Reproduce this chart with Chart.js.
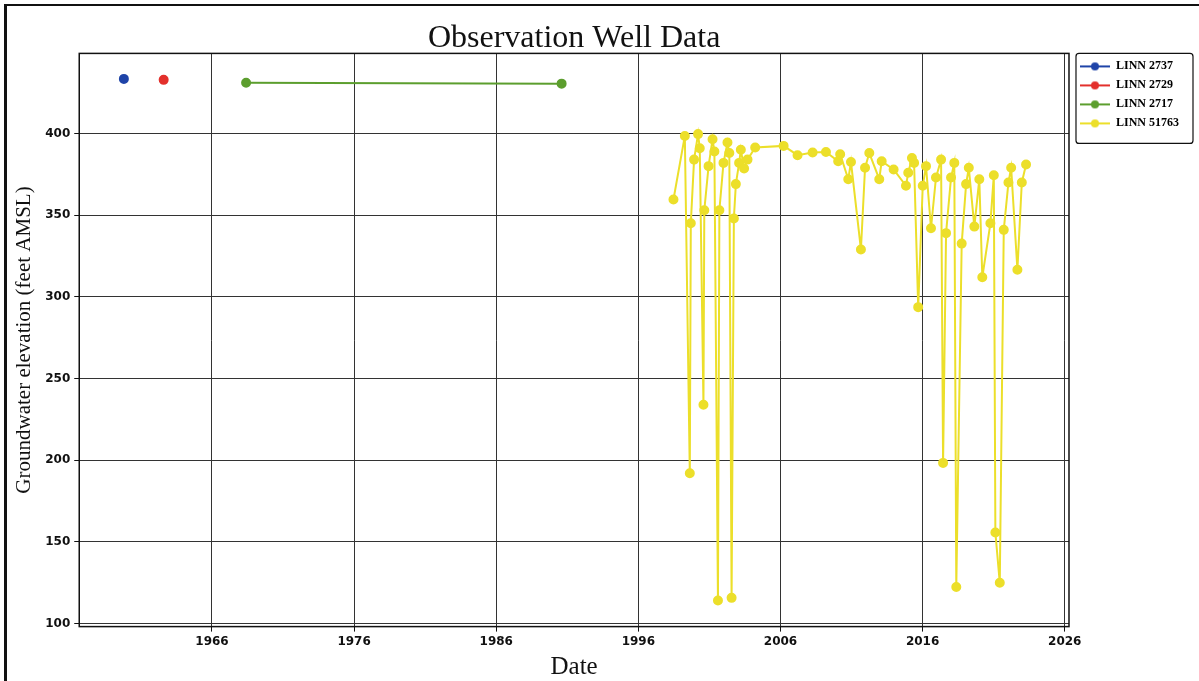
<!DOCTYPE html>
<html>
<head>
<meta charset="utf-8">
<script src="https://cdn.jsdelivr.net/npm/chart.js@4.4.1/dist/chart.umd.min.js"></script>
<style>
  body { margin: 0; background: #fff; }
  #wrap { position: relative; width: 1199px; height: 681px; }
  #frame { position: absolute; left: 4px; top: 4px; width: 1195px; height: 690px;
           border-left: 3px solid #111; border-top: 2px solid #111; pointer-events: none; }
</style>
</head>
<body>
<div id="wrap">
  <canvas id="grafica" width="1199" height="681"></canvas>
  <div id="frame"></div>
</div>
<script>
// datos
const nombresPozos = ["LINN 2737", "LINN 2729", "LINN 2717", "LINN 51763"];
const coloresPozos = ["#1f44a8", "#e3302c", "#5c9e2e", "#ecdf2a"];

const anios2737 = [1959.8];
const nivel2737 = [433.4];

const anios2729 = [1962.6];
const nivel2729 = [432.8];

const anios2717 = [1968.4, 1990.6];
const nivel2717 = [431, 430.5];

const anios51763 = [1998.47, 1999.27, 1999.62, 1999.69, 1999.92, 2000.20, 2000.32, 2000.58, 2000.64, 2000.94,
  2001.22, 2001.35, 2001.60, 2001.70, 2001.99, 2002.27, 2002.40, 2002.56, 2002.72, 2002.86,
  2003.09, 2003.21, 2003.44, 2003.68, 2004.22, 2006.22, 2007.20, 2008.26, 2009.20, 2010.06,
  2010.20, 2010.77, 2010.96, 2011.66, 2011.95, 2012.25, 2012.95, 2013.12, 2013.96, 2014.83,
  2014.99, 2015.25, 2015.40, 2015.69, 2016.01, 2016.24, 2016.59, 2016.94, 2017.30, 2017.44,
  2017.65, 2018.00, 2018.23, 2018.37, 2018.75, 2019.06, 2019.25, 2019.64, 2019.99, 2020.20,
  2020.77, 2021.01, 2021.12, 2021.43, 2021.71, 2022.04, 2022.23, 2022.67, 2022.98, 2023.28];
const nivel51763 = [359.6, 398.5, 192, 345, 384, 399.6, 391, 234, 353, 380,
  396.5, 389, 114.2, 353, 382, 394.5, 388, 115.8, 348, 369,
  382, 390, 378.6, 384, 391.4, 392.4, 386.7, 388.3, 388.7, 383,
  387.3, 372, 382.5, 329, 379, 388, 372, 383, 378, 368,
  376, 385, 382, 293.7, 368, 380, 342, 373, 384, 198.4,
  339, 373, 382, 122.4, 332.6, 369, 379, 343, 372, 312,
  345, 374.4, 155.8, 125, 341, 370, 379, 316.6, 370, 381];

const ticksAnios = [1966, 1976, 1986, 1996, 2006, 2016, 2026];
const ticksNivel = [100, 150, 200, 250, 300, 350, 400];

function puntos(xs, ys) {
  return xs.map((x, i) => ({ x: x, y: ys[i] }));
}

// icono de la leyenda: linea con punto
function iconoLeyenda(color) {
  const c = document.createElement("canvas");
  c.width = 30; c.height = 12;
  const g = c.getContext("2d");
  g.strokeStyle = color; g.lineWidth = 2;
  g.beginPath(); g.moveTo(0, 6); g.lineTo(30, 6); g.stroke();
  g.fillStyle = color;
  g.beginPath(); g.arc(15, 6, 4, 0, Math.PI * 2); g.fill();
  return c;
}
const iconos = coloresPozos.map(iconoLeyenda);

const marcoPlot = {
  id: "marcoPlot",
  afterLayout(chart) {
    // separar un poco la leyenda del area del grafico
    chart.legend.left += 4;
    chart.legend.right += 4;
  },
  afterDraw(chart) {
    const ctx = chart.ctx;
    const a = chart.chartArea;
    ctx.save();
    ctx.strokeStyle = "#111";
    ctx.lineWidth = 1.5;
    ctx.strokeRect(a.left, a.top, a.right - a.left, a.bottom - a.top);
    // caja de la leyenda
    const lg = chart.legend;
    const boxes = lg.legendHitBoxes;
    if (boxes && boxes.length) {
      let x0 = a.right + 7;
      let y0 = a.top;
      let x1 = 1193;
      let y1 = Math.max(...boxes.map(b => b.top + b.height)) + 14;
      ctx.lineWidth = 1.2;
      ctx.beginPath();
      ctx.roundRect(x0, y0, x1 - x0, y1 - y0, 3);
      ctx.stroke();
    }
    ctx.restore();
  }
};

const ctx = document.getElementById("grafica").getContext("2d");
const series = [
  { xs: anios2737, ys: nivel2737, linea: false },
  { xs: anios2729, ys: nivel2729, linea: false },
  { xs: anios2717, ys: nivel2717, linea: true },
  { xs: anios51763, ys: nivel51763, linea: true }
];

const grafica = new Chart(ctx, {
  type: "scatter",
  data: {
    datasets: series.map((s, i) => ({
      label: nombresPozos[i],
      data: puntos(s.xs, s.ys),
      showLine: s.linea,
      borderColor: coloresPozos[i],
      backgroundColor: coloresPozos[i],
      borderWidth: 2,
      pointRadius: 4,
      pointHoverRadius: 4,
      pointStyle: "circle"
    }))
  },
  options: {
    responsive: false,
    animation: false,
    layout: { padding: { left: 12, right: 14, top: 2, bottom: 0 } },
    plugins: {
      title: {
        display: true,
        text: "Observation Well Data",
        fullSize: false,
        color: "#111",
        font: { family: "Liberation Serif", size: 32, weight: "normal" },
        padding: { top: 17, bottom: -4 }
      },
      legend: {
        position: "right",
        align: "start",
        fullSize: false,
        labels: {
          color: "#111",
          font: { family: "Liberation Serif", size: 12, weight: "bold" },
          usePointStyle: true,
          pointStyleWidth: 30,
          padding: 7,
          generateLabels(chart) {
            return nombresPozos.map((n, i) => ({
              text: n,
              pointStyle: iconos[i],
              fillStyle: coloresPozos[i],
              strokeStyle: coloresPozos[i],
              lineWidth: 0,
              hidden: false,
              datasetIndex: i
            }));
          }
        }
      },
      tooltip: { enabled: false }
    },
    scales: {
      x: {
        type: "linear",
        min: 1956.66,
        max: 2026.3,
        afterBuildTicks(scale) { scale.ticks = ticksAnios.map(v => ({ value: v })); },
        ticks: {
          color: "#111",
          font: { family: "DejaVu Sans", size: 12, weight: "bold" },
          callback: v => String(v),
          maxRotation: 0,
          padding: 3
        },
        grid: { color: "#333", lineWidth: 1, tickLength: 5, tickColor: "#111" },
        border: { display: false },
        title: {
          display: true,
          text: "Date",
          color: "#111",
          font: { family: "Liberation Serif", size: 25 },
          padding: { top: 0, bottom: -1 }
        }
      },
      y: {
        type: "linear",
        min: 98.2,
        max: 449,
        afterBuildTicks(scale) { scale.ticks = ticksNivel.map(v => ({ value: v })); },
        ticks: {
          color: "#111",
          font: { family: "DejaVu Sans", size: 12, weight: "bold" },
          padding: 4
        },
        grid: { color: "#333", lineWidth: 1, tickLength: 5, tickColor: "#111" },
        border: { display: false },
        title: {
          display: true,
          text: "Groundwater elevation (feet AMSL)",
          color: "#111",
          font: { family: "Liberation Serif", size: 21 },
          padding: { top: 0, bottom: 4 }
        }
      }
    }
  },
  plugins: [marcoPlot]
});
console.log(grafica.chartArea);
</script>
</body>
</html>
